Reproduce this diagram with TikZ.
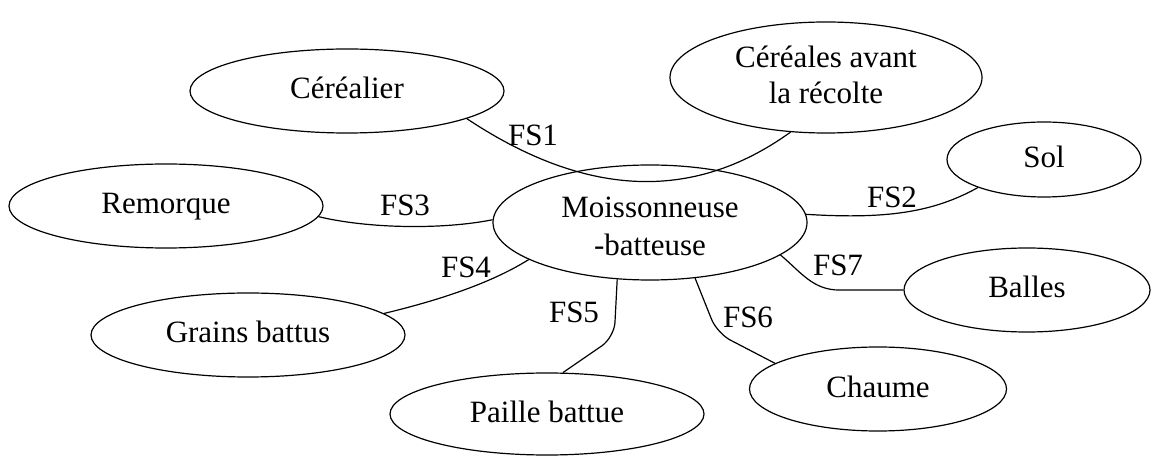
\documentclass[tikz,border=0pt]{standalone}
\usepackage{fontspec}
\setmainfont{Liberation Serif}
\usetikzlibrary{shapes.geometric}
\begin{document}
\begin{tikzpicture}[x=1pt,y=1pt,
  bubble/.style={ellipse,draw,line width=1.2pt,inner sep=0pt,
    text height=21pt,text depth=5pt,
    font=\fontsize{31}{37}\selectfont},
  shape only/.style={ellipse,draw,line width=1.2pt,inner sep=0pt},
  twoline/.style={inner sep=0pt,align=center},
  link/.style={line width=1.2pt},
  fslabel/.style={inner sep=0pt,font=\fontsize{31}{37}\selectfont}]
\useasboundingbox (0,0) rectangle (1153,455);
% ellipses (canvas y = 455 - pixel y)
\node[bubble,minimum width=314,minimum height=84] (cer) at (347,364) {Céréalier};
\node[shape only,minimum width=312,minimum height=111] (cav) at (826,377.5) {};
\node[twoline,font=\fontsize{31}{36}\selectfont] (cavtext) at (826,380.6) {Céréales avant\\la récolte};
\node[bubble,minimum width=194,minimum height=75] (sol) at (1044,295.5) {Sol};
\node[bubble,minimum width=314,minimum height=84] (rem) at (166,249) {Remorque};
\node[shape only,minimum width=314,minimum height=115] (moi) at (650,232.5) {};
\node[twoline,font=\fontsize{31}{38}\selectfont] (moitext) at (650,228.3) {Moissonneuse\\-batteuse};
\node[bubble,minimum width=246,minimum height=84] (bal) at (1027,165) {Balles};
\node[bubble,minimum width=314,minimum height=84] (gra) at (248,120) {Grains battus};
\node[bubble,minimum width=314,minimum height=82] (pai) at (547,41) {Paille battue};
\node[bubble,minimum width=257,minimum height=84] (cha) at (878,66) {Chaume};
% connectors
\draw[link] (cer.-13) .. controls +(116,-77) and +(-100,-72) .. (cav.-123);
\draw[link] (rem.-4) .. controls +(50,-12) and +(-50,-10) .. (moi.179);
\draw[link] (moi.3) .. controls +(80,-5) and +(-45,-25) .. (sol.-157);
\draw[link] (moi.-163) .. controls +(-40,-25) and +(50,12) .. (gra.9);
\draw[link,rounded corners=15pt] (moi.-120) -- ++(-3,-58) -- (pai.69);
\draw[link,rounded corners=15pt] (moi.-51) -- ++(22,-55) -- (cha.166);
\draw[link] (moi.-14) to[out=-40,in=180] ++(59,-35) -- (bal.west);
% labels
\node[fslabel] (l1) at (533,320) {FS1};
\node[fslabel] (l3) at (405,250) {FS3};
\node[fslabel] (l2) at (892,258) {FS2};
\node[fslabel] (l4) at (466,188) {FS4};
\node[fslabel] (l5) at (574,143) {FS5};
\node[fslabel] (l6) at (748,138) {FS6};
\node[fslabel] (l7) at (838,190) {FS7};
\end{tikzpicture}
\end{document}
